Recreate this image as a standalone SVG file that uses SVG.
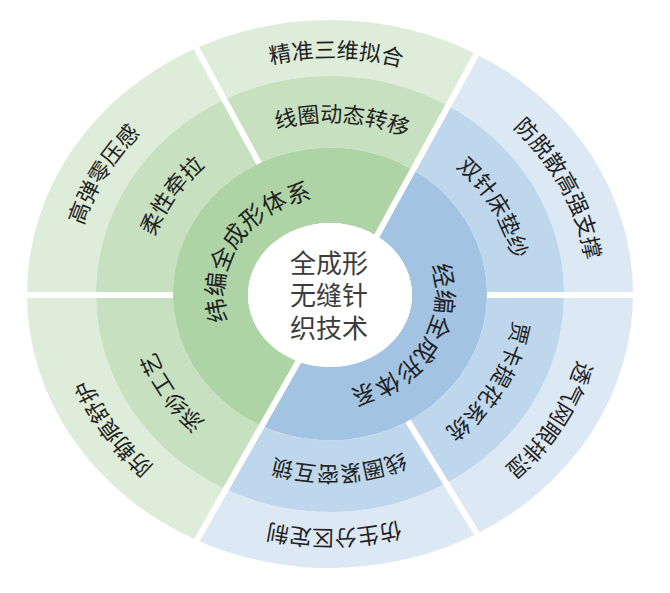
<svg xmlns="http://www.w3.org/2000/svg" width="670" height="593" viewBox="0 0 670 593">
<style>
  .lbl { font-family: "Noto Sans CJK SC", "Noto Sans", sans-serif; font-size: 22px; fill: #222222; text-anchor: middle; }
  .big { font-size: 24px; }
  .ctr { font-family: "Noto Sans CJK SC", "Noto Sans", sans-serif; font-size: 26px; fill: #3c3c3c; text-anchor: middle; }
  .go { fill: #deedd9; } .gm { fill: #c6e0c0; } .gi { fill: #aed4a6; }
  .bo { fill: #dce8f4; } .bm { fill: #bed7ec; } .bi { fill: #a3c3e2; }
  .sep { stroke: #ffffff; stroke-width: 6; fill: none; }
</style>
<defs>
  <path id="t-o1" d="M89.95,207.51 A258,236 0 0 1 574.67,219.12"/>
  <path id="t-o2" d="M307.51,58.90 A258,236 0 0 1 512.43,460.88"/>
  <path id="t-o3" d="M527.63,142.30 A258,236 0 0 1 285.20,526.41"/>
  <path id="t-o4" d="M573.94,370.83 A258,236 0 0 1 89.14,378.58"/>
  <path id="t-o5" d="M383.64,524.84 A258,236 0 0 1 126.69,148.70"/>
  <path id="t-o6" d="M138.27,451.91 A258,236 0 0 1 365.91,60.30"/>
  <path id="t-m1" d="M160.08,224.04 A186,172 0 0 1 508.79,246.59"/>
  <path id="t-m2" d="M304.11,123.67 A186,172 0 0 1 468.22,409.09"/>
  <path id="t-m3" d="M470.38,181.16 A186,172 0 0 1 300.90,463.88"/>
  <path id="t-m4" d="M507.87,344.29 A186,172 0 0 1 158.79,361.21"/>
  <path id="t-m5" d="M368.67,462.24 A186,172 0 0 1 183.43,188.11"/>
  <path id="t-m6" d="M183.43,399.89 A186,172 0 0 1 368.67,125.76"/>
  <path id="t-i1" d="M267.69,371.67 A106,96 0 0 1 376.47,207.72"/>
  <path id="t-i2" d="M390.80,215.36 A106,96 0 0 1 285.20,381.01"/>
</defs>

<!-- outer ring -->
<g id="node-o1">
  <path class="go" d="M196.45,48.05 A303,274 0 0 1 476.47,54.14 L448.14,105.82 A234,218 0 0 0 224.37,99.48 Z"/>
  <text class="lbl"><textPath href="#t-o1" startOffset="50%">精准三维拟合</textPath></text>
</g>
<g id="node-o2">
  <path class="bo" d="M476.47,54.14 A303,274 0 0 1 633,294 L564,294 A234,218 0 0 0 448.14,105.82 Z"/>
  <text class="lbl"><textPath href="#t-o2" startOffset="50%">防脱散高强支撑</textPath></text>
</g>
<g id="node-o3">
  <path class="bo" d="M633,294 A303,274 0 0 1 476.87,533.66 L446.02,483.32 A234,218 0 0 0 564,294 Z"/>
  <text class="lbl"><textPath href="#t-o3" startOffset="50%">透气网眼排湿</textPath></text>
</g>
<g id="node-o4">
  <path class="bo" d="M476.87,533.66 A303,274 0 0 1 196.91,540.15 L225.85,489.22 A234,218 0 0 0 446.02,483.32 Z"/>
  <text class="lbl"><textPath href="#t-o4" startOffset="50%">仿生分区定制</textPath></text>
</g>
<g id="node-o5">
  <path class="go" d="M196.91,540.15 A303,274 0 0 1 27,294 L96,294 A234,218 0 0 0 225.85,489.22 Z"/>
  <text class="lbl"><textPath href="#t-o5" startOffset="50%">防勒痕舒护</textPath></text>
</g>
<g id="node-o6">
  <path class="go" d="M27,294 A303,274 0 0 1 196.45,48.05 L224.37,99.48 A234,218 0 0 0 96,294 Z"/>
  <text class="lbl"><textPath href="#t-o6" startOffset="50%">高弹零压感</textPath></text>
</g>

<!-- middle ring -->
<g id="node-m1">
  <path class="gm" d="M224.37,99.48 A234,218 0 0 1 448.14,105.82 L413.11,169.71 A157,146.5 0 0 0 259.04,163.32 Z"/>
  <text class="lbl"><textPath href="#t-m1" startOffset="50%">线圈动态转移</textPath></text>
</g>
<g id="node-m2">
  <path class="bm" d="M448.14,105.82 A234,218 0 0 1 564,294 L487,294 A157,146.5 0 0 0 413.11,169.71 Z"/>
  <text class="lbl"><textPath href="#t-m2" startOffset="50%">双针床垫纱</textPath></text>
</g>
<g id="node-m3">
  <path class="bm" d="M564,294 A234,218 0 0 1 446.02,483.32 L407.94,421.17 A157,146.5 0 0 0 487,294 Z"/>
  <text class="lbl"><textPath href="#t-m3" startOffset="50%">贾卡提花系统</textPath></text>
</g>
<g id="node-m4">
  <path class="bm" d="M446.02,483.32 A234,218 0 0 1 225.85,489.22 L261.8,425.95 A157,146.5 0 0 0 407.94,421.17 Z"/>
  <text class="lbl"><textPath href="#t-m4" startOffset="50%">线圈紧密互锁</textPath></text>
</g>
<g id="node-m5">
  <path class="gm" d="M225.85,489.22 A234,218 0 0 1 96,294 L173,294 A157,146.5 0 0 0 261.8,425.95 Z"/>
  <text class="lbl"><textPath href="#t-m5" startOffset="50%">添纱工艺</textPath></text>
</g>
<g id="node-m6">
  <path class="gm" d="M96,294 A234,218 0 0 1 224.37,99.48 L259.04,163.32 A157,146.5 0 0 0 173,294 Z"/>
  <text class="lbl"><textPath href="#t-m6" startOffset="50%">柔性牵拉</textPath></text>
</g>

<!-- inner ring -->
<g id="node-weft">
  <path class="gi" d="M261.8,425.95 A157,146.5 0 1 1 413.11,169.71 L376.82,235.89 A82,72 0 1 0 298.45,361.46 Z"/>
  <text class="lbl big"><textPath href="#t-i1" startOffset="50%">纬编全成形体系</textPath></text>
</g>
<g id="node-warp">
  <path class="bi" d="M413.11,169.71 A157,146.5 0 0 1 261.8,425.95 L298.45,361.46 A82,72 0 0 0 376.82,235.89 Z"/>
  <text class="lbl big"><textPath href="#t-i2" startOffset="50%">经编全成形体系</textPath></text>
</g>

<!-- separators -->
<g id="separators">
  <line class="sep" x1="365.03" y1="257.4" x2="480.83" y2="46.2"/>
  <line class="sep" x1="312" y1="337.6" x2="192" y2="548.8"/>
  <line class="sep" x1="18" y1="295" x2="173" y2="295"/>
  <line class="sep" x1="487" y1="295" x2="645" y2="295"/>
  <line class="sep" x1="259.04" y1="163.32" x2="186.8" y2="30.4"/>
  <line class="sep" x1="407.94" y1="421.17" x2="486.75" y2="549.8"/>
</g>

<!-- center -->
<g id="node-center">
  <ellipse cx="330" cy="295" rx="82" ry="72" fill="#ffffff"/>
  <text class="ctr" x="329" y="272.5">全成形</text>
  <text class="ctr" x="329" y="305">无缝针</text>
  <text class="ctr" x="329" y="337.5">织技术</text>
</g>
</svg>
